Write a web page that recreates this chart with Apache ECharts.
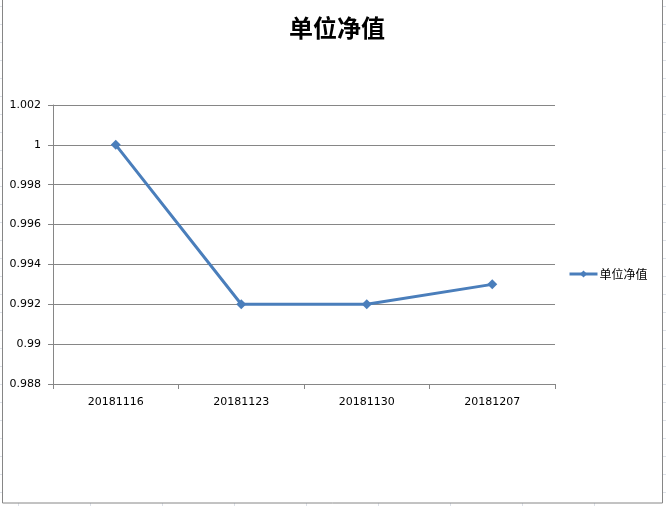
<!DOCTYPE html>
<html><head><meta charset="utf-8">
<script src="https://cdn.jsdelivr.net/npm/echarts@6/dist/echarts.min.js"></script>
<style>html,body{margin:0;padding:0;background:#fff}#c{width:666px;height:506px}</style>
</head><body><div id="c"></div>
<script>
const categories = ['20181116', '20181123', '20181130', '20181207'];
const seriesName = '单位净值';
const values = [1.000, 0.992, 0.992, 0.993];
const yTicks = [0.988, 0.99, 0.992, 0.994, 0.996, 0.998, 1, 1.002];

const chart = echarts.init(document.getElementById('c'));
const bg = [];
const sheetLine = '#dde1e8';
for (let x = 18; x <= 666; x += 72) {
  bg.push({type:'line', z:-20, silent:true, shape:{x1:x+0.5,y1:0,x2:x+0.5,y2:506}, style:{stroke:sheetLine,lineWidth:1}});
}
for (let y = 6; y <= 506; y += 18) {
  bg.push({type:'line', z:-20, silent:true, shape:{x1:0,y1:y+0.5,x2:666,y2:y+0.5}, style:{stroke:sheetLine,lineWidth:1}});
}
bg.push({type:'rect', z:-10, silent:true, shape:{x:2.5,y:-1,width:660,height:504}, style:{fill:'#fff',stroke:'#868686',lineWidth:1}});

chart.setOption({
  animation:false,
  graphic: bg,
  title:{text:'单位净值', left:332, textAlign:'center', top:11,
    textStyle:{fontFamily:'Noto Sans CJK SC', fontWeight:'bold', fontSize:24, color:'#000'}},
  legend:{left:563, top:263, orient:'vertical', itemWidth:28, itemHeight:9, itemGap:4,
    lineStyle:{width:3},
    textStyle:{fontFamily:'Noto Sans CJK SC', fontSize:12, color:'#000', padding:[0,0,0,-3]},
    data:[seriesName]},
  grid:{left:53, right:111, top:105, bottom:122, containLabel:false},
  xAxis:{type:'category', data:categories, boundaryGap:true,
    axisLine:{lineStyle:{color:'#868686', width:1}},
    axisTick:{show:true, length:5, lineStyle:{color:'#868686'}, alignWithLabel:false},
    axisLabel:{color:'#000', fontSize:11, fontFamily:'DejaVu Sans', margin:13},
    splitLine:{show:false}},
  yAxis:{type:'value', min:0.988, max:1.002, interval:0.002,
    axisLine:{show:true, lineStyle:{color:'#868686'}},
    axisTick:{show:true, length:5, lineStyle:{color:'#868686'}},
    axisLabel:{color:'#000', fontSize:11, fontFamily:'DejaVu Sans', margin:12,
      formatter: v => { const t = yTicks.find(k => Math.abs(k - v) < 1e-9); return String(+(t ?? v).toFixed(3)); }},
    splitLine:{show:true, lineStyle:{color:'#868686', width:1}}},
  series:[{name:seriesName, type:'line', data:values, symbol:'diamond', symbolSize:10,
    lineStyle:{color:'#4a7ebb', width:3}, itemStyle:{color:'#4a7ebb'}}]
});
</script></body></html>
